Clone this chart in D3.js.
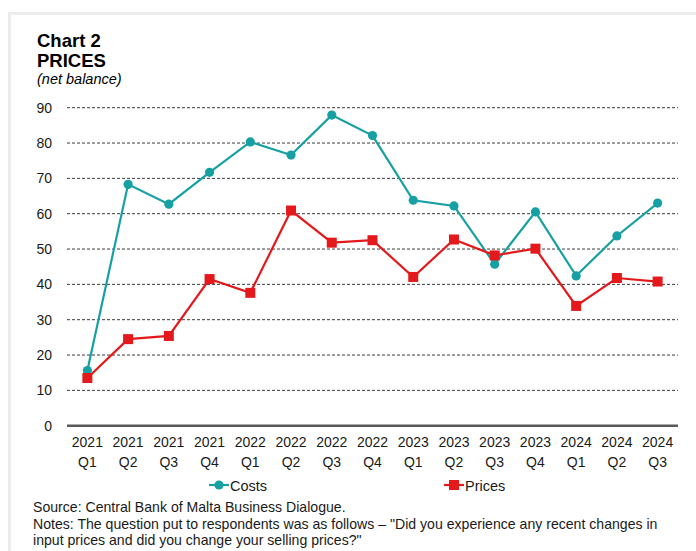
<!DOCTYPE html>
<html>
<head>
<meta charset="utf-8">
<script src="https://cdn.jsdelivr.net/npm/d3@7"></script>
<style>
  html, body { margin: 0; padding: 0; background: #fff; }
  svg { display: block; font-family: "Liberation Sans", Arial, sans-serif; }
</style>
</head>
<body>
<svg id="chart" width="696" height="551"></svg>
<script>
// Quarterly survey periods
const years = ["2021","2021","2021","2021","2022","2022","2022","2022","2023","2023","2023","2023","2024","2024","2024"];
const quarters = ["Q1","Q2","Q3","Q4","Q1","Q2","Q3","Q4","Q1","Q2","Q3","Q4","Q1","Q2","Q3"];
// Net balances
const costs = [15.6, 68.3, 62.7, 71.7, 80.3, 76.6, 87.9, 82.1, 63.8, 62.2, 45.7, 60.5, 42.4, 53.7, 63.0];
const prices = [13.5, 24.5, 25.4, 41.5, 37.6, 60.9, 51.8, 52.5, 42.1, 52.7, 48.2, 50.1, 33.9, 41.8, 40.8];
const yTicks = [0, 10, 20, 30, 40, 50, 60, 70, 80, 90];

const teal = "#17a0a3";
const red = "#e3191c";

const svg = d3.select("#chart");

// light panel frame (top and left edges)
svg.append("rect").attr("x", 8).attr("y", 12).attr("width", 700).attr("height", 3).attr("fill", "#ececec");
svg.append("rect").attr("x", 8).attr("y", 12).attr("width", 3).attr("height", 560).attr("fill", "#ececec");

// titles
svg.append("text").attr("x", 37).attr("y", 47).attr("font-size", 18.5).attr("font-weight", "bold").text("Chart 2");
svg.append("text").attr("x", 37).attr("y", 67).attr("font-size", 18.5).attr("font-weight", "bold").text("PRICES");
svg.append("text").attr("x", 37).attr("y", 84).attr("font-size", 14.5).attr("font-style", "italic").text("(net balance)");

const plotLeft = 67, plotRight = 678, plotTop = 107.7, plotBottom = 425.7;
const idx = d3.range(costs.length);
const x = d3.scaleBand().domain(idx).range([plotLeft, plotRight]);
const cx = i => x(i) + x.bandwidth() / 2;
const y = d3.scaleLinear().domain([0, 90]).range([plotBottom, plotTop]);

// gridlines
svg.append("g").selectAll("line").data(yTicks.filter(t => t > 0)).join("line")
  .attr("x1", plotLeft).attr("x2", plotRight)
  .attr("y1", d => y(d)).attr("y2", d => y(d))
  .attr("stroke", "#3a3a3a").attr("stroke-width", 1).attr("stroke-dasharray", "3,2");

// y axis labels
const yAxis = d3.axisLeft(y).tickValues(yTicks).tickSize(0).tickPadding(15);
const gy = svg.append("g").attr("transform", `translate(${plotLeft},0)`).call(yAxis);
gy.select(".domain").remove();
gy.selectAll("text").attr("font-size", 14).attr("fill", "#1a1a1a").attr("font-family", "Liberation Sans, Arial, sans-serif");

// zero line
svg.append("line").attr("x1", plotLeft).attr("x2", plotRight).attr("y1", y(0)).attr("y2", y(0))
  .attr("stroke", "#595959").attr("stroke-width", 2.5);

// x axis labels (two lines)
const xl = svg.append("g").selectAll("text").data(idx).join("text")
  .attr("text-anchor", "middle").attr("font-size", 14).attr("fill", "#1a1a1a");
xl.append("tspan").attr("x", i => cx(i)).attr("y", 447).text(i => years[i]);
xl.append("tspan").attr("x", i => cx(i)).attr("y", 467).text(i => quarters[i]);

// series
const line = d3.line().x((d, i) => cx(i)).y(d => y(d));
svg.append("path").datum(costs).attr("d", line).attr("fill", "none").attr("stroke", teal).attr("stroke-width", 2.2);
svg.append("path").datum(prices).attr("d", line).attr("fill", "none").attr("stroke", red).attr("stroke-width", 2.2);

svg.append("g").selectAll("circle").data(costs).join("circle")
  .attr("cx", (d, i) => cx(i)).attr("cy", d => y(d)).attr("r", 4.6).attr("fill", teal);
const sq = 10;
svg.append("g").selectAll("rect").data(prices).join("rect")
  .attr("x", (d, i) => cx(i) - sq / 2).attr("y", d => y(d) - sq / 2)
  .attr("width", sq).attr("height", sq).attr("fill", red);

// legend
const legend = [
  { name: "Costs", color: teal, shape: "circle", x: 209 },
  { name: "Prices", color: red, shape: "square", x: 444 }
];
const ly = 485;
legend.forEach(l => {
  const g = svg.append("g");
  g.append("line").attr("x1", l.x).attr("x2", l.x + 20).attr("y1", ly).attr("y2", ly)
    .attr("stroke", l.color).attr("stroke-width", 2.2);
  if (l.shape === "circle") {
    g.append("circle").attr("cx", l.x + 10).attr("cy", ly).attr("r", 4.6).attr("fill", l.color);
  } else {
    g.append("rect").attr("x", l.x + 10 - sq / 2).attr("y", ly - sq / 2).attr("width", sq).attr("height", sq).attr("fill", l.color);
  }
  g.append("text").attr("x", l.x + 21).attr("y", ly + 5.5).attr("font-size", 14.5).attr("fill", "#1a1a1a").text(l.name);
});

// source and notes
const notes = [
  "Source: Central Bank of Malta Business Dialogue.",
  "Notes: The question put to respondents was as follows \u2013 \"Did you experience any recent changes in",
  "input prices and did you change your selling prices?\""
];
svg.append("g").selectAll("text").data(notes).join("text")
  .attr("x", 33).attr("y", (d, i) => 512 + i * 16.5)
  .attr("font-size", 14.1).attr("fill", "#1a1a1a").text(d => d);
</script>
</body>
</html>
